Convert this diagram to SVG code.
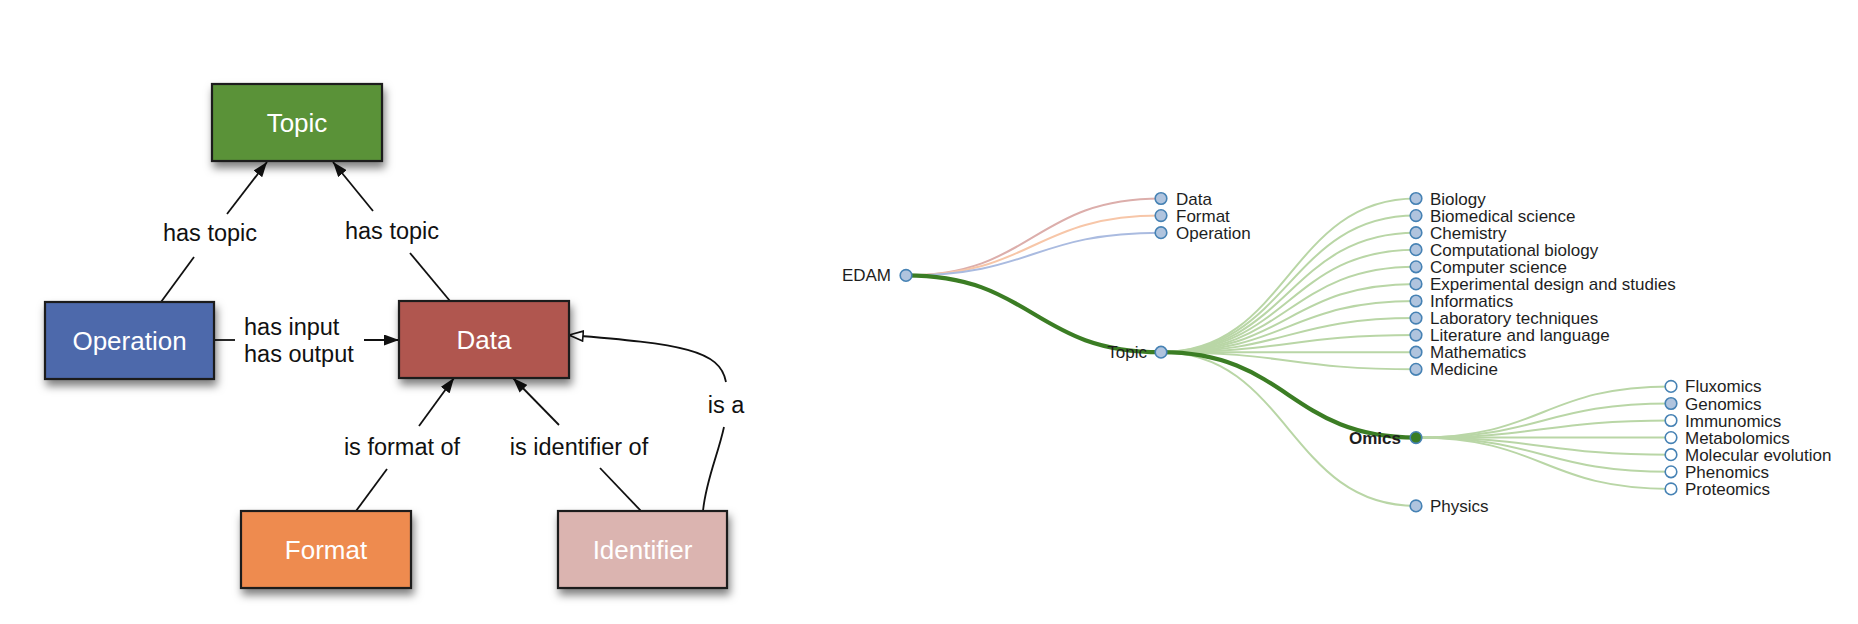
<svg xmlns="http://www.w3.org/2000/svg" width="1858" height="624" viewBox="0 0 1858 624">
<style>
.box{stroke:#1c1c1c;stroke-width:2.2;filter:url(#sh)}
.bt{font-family:"Liberation Sans",Arial,sans-serif;font-size:26px;fill:#fff;text-anchor:middle}
.lb{font-family:"Liberation Sans",Arial,sans-serif;font-size:23.5px;fill:#111;text-anchor:middle}
.e{stroke:#111;stroke-width:1.8;fill:none}
.lk{fill:none;stroke-width:2}
.g{stroke:#b9d6a6}
.thick{stroke:#3b7d24;stroke-width:4.2}
.nd{fill:#b0c4de;stroke:#4682b4;stroke-width:1.6}
.lf{fill:#fff;stroke:#4682b4;stroke-width:1.6}
.tr{font-family:"Liberation Sans",Arial,sans-serif;font-size:17px;fill:#1e1e1e}
.tl{font-family:"Liberation Sans",Arial,sans-serif;font-size:17px;fill:#1e1e1e;text-anchor:end}
</style>
<defs>
<filter id="sh" x="-20%" y="-20%" width="140%" height="160%">
<feDropShadow dx="2" dy="6" stdDeviation="4" flood-color="#000" flood-opacity="0.5"/>
</filter>
<marker id="af" viewBox="0 0 15 11" refX="15" refY="5.5" markerWidth="15" markerHeight="11" markerUnits="userSpaceOnUse" orient="auto">
<path d="M0,0 L15,5.5 L0,11 z" fill="#111"/>
</marker>
<marker id="ah" viewBox="0 0 16 12" refX="15" refY="6" markerWidth="16" markerHeight="12" markerUnits="userSpaceOnUse" orient="auto">
<path d="M1,1 L15,6 L1,11 z" fill="#fff" stroke="#111" stroke-width="1.6"/>
</marker>
</defs>
<rect width="1858" height="624" fill="#fff"/>

<g id="connectors-left">
<line class="e" x1="161" y1="302" x2="194" y2="257"/>
<line class="e" x1="227" y1="214" x2="267" y2="162" marker-end="url(#af)"/>
<line class="e" x1="450" y1="301" x2="410" y2="253"/>
<line class="e" x1="373" y1="211" x2="333" y2="162" marker-end="url(#af)"/>
<line class="e" x1="214" y1="340" x2="235" y2="340"/>
<line class="e" x1="364" y1="340" x2="399" y2="340" marker-end="url(#af)"/>
<line class="e" x1="356" y1="511" x2="387" y2="469"/>
<line class="e" x1="419" y1="426" x2="454" y2="378" marker-end="url(#af)"/>
<line class="e" x1="641" y1="511" x2="600" y2="468"/>
<line class="e" x1="559" y1="425" x2="513" y2="378" marker-end="url(#af)"/>
<path class="e" d="M703,511 C706,480 718,455 724,427"/>
<path class="e" d="M726,382 C720,350 682,344 569,335" marker-end="url(#ah)"/>
<text class="lb" x="210" y="241">has topic</text>
<text class="lb" x="392" y="239">has topic</text>
<text class="lb" x="244" y="335" style="text-anchor:start">has input</text>
<text class="lb" x="244" y="362" style="text-anchor:start">has output</text>
<text class="lb" x="402" y="455">is format of</text>
<text class="lb" x="579" y="455">is identifier of</text>
<text class="lb" x="726" y="413">is a</text>
</g>

<g id="node-topic"><rect class="box" x="212" y="84" width="170" height="77" fill="#5a9238"/><text class="bt" x="297" y="131.5">Topic</text></g>
<g id="node-operation"><rect class="box" x="45" y="302" width="169" height="77" fill="#4d69ab"/><text class="bt" x="129.5" y="349.5">Operation</text></g>
<g id="node-data"><rect class="box" x="399" y="301" width="170" height="77" fill="#b0574f"/><text class="bt" x="484" y="348.5">Data</text></g>
<g id="node-format"><rect class="box" x="241" y="511" width="170" height="77" fill="#ee8b50"/><text class="bt" x="326" y="558.5">Format</text></g>
<g id="node-identifier"><rect class="box" x="558" y="511" width="169" height="77" fill="#dbb4b0"/><text class="bt" x="642.5" y="558.5">Identifier</text></g>

<g id="connectors-tree">
<path class="lk" stroke="#dcaeab" d="M906,275.4 C1033.5,275.4 1033.5,198.5 1161,198.5"/>
<path class="lk" stroke="#f7c6a8" d="M906,275.4 C1033.5,275.4 1033.5,215.6 1161,215.6"/>
<path class="lk" stroke="#aabbe0" d="M906,275.4 C1033.5,275.4 1033.5,232.7 1161,232.7"/>
<g class="lk g">
<path d="M1161,352.2 C1288.5,352.2 1288.5,198.5 1416,198.5"/>
<path d="M1161,352.2 C1288.5,352.2 1288.5,215.6 1416,215.6"/>
<path d="M1161,352.2 C1288.5,352.2 1288.5,232.7 1416,232.7"/>
<path d="M1161,352.2 C1288.5,352.2 1288.5,249.7 1416,249.7"/>
<path d="M1161,352.2 C1288.5,352.2 1288.5,266.8 1416,266.8"/>
<path d="M1161,352.2 C1288.5,352.2 1288.5,283.9 1416,283.9"/>
<path d="M1161,352.2 C1288.5,352.2 1288.5,301.0 1416,301.0"/>
<path d="M1161,352.2 C1288.5,352.2 1288.5,318.1 1416,318.1"/>
<path d="M1161,352.2 C1288.5,352.2 1288.5,335.1 1416,335.1"/>
<path d="M1161,352.2 C1288.5,352.2 1288.5,352.2 1416,352.2"/>
<path d="M1161,352.2 C1288.5,352.2 1288.5,369.3 1416,369.3"/>
<path d="M1161,352.2 C1288.5,352.2 1288.5,505.9 1416,505.9"/>
<path d="M1416,437.6 C1543.5,437.6 1543.5,386.4 1671,386.4"/>
<path d="M1416,437.6 C1543.5,437.6 1543.5,403.5 1671,403.5"/>
<path d="M1416,437.6 C1543.5,437.6 1543.5,420.5 1671,420.5"/>
<path d="M1416,437.6 C1543.5,437.6 1543.5,437.6 1671,437.6"/>
<path d="M1416,437.6 C1543.5,437.6 1543.5,454.7 1671,454.7"/>
<path d="M1416,437.6 C1543.5,437.6 1543.5,471.8 1671,471.8"/>
<path d="M1416,437.6 C1543.5,437.6 1543.5,488.9 1671,488.9"/>
</g>
<path class="lk thick" d="M906,275.4 C1033.5,275.4 1033.5,352.2 1161,352.2"/>
<path class="lk thick" d="M1161,352.2 C1288.5,352.2 1288.5,437.6 1416,437.6"/>
</g>

<g id="t-edam"><circle class="nd" cx="906" cy="275.4" r="5.8"/><text class="tl" x="891" y="281.4">EDAM</text></g>
<g id="t-data"><circle class="nd" cx="1161" cy="198.5" r="5.8"/><text class="tr" x="1176" y="204.5">Data</text></g>
<g id="t-format"><circle class="nd" cx="1161" cy="215.6" r="5.8"/><text class="tr" x="1176" y="221.6">Format</text></g>
<g id="t-operation"><circle class="nd" cx="1161" cy="232.7" r="5.8"/><text class="tr" x="1176" y="238.7">Operation</text></g>
<g id="t-topic"><circle class="nd" cx="1161" cy="352.2" r="5.8"/><text class="tl" x="1147" y="358.2">Topic</text></g>
<g id="t-biology"><circle class="nd" cx="1416" cy="198.5" r="5.8"/><text class="tr" x="1430" y="204.5">Biology</text></g>
<g id="t-biomedical"><circle class="nd" cx="1416" cy="215.6" r="5.8"/><text class="tr" x="1430" y="221.6">Biomedical science</text></g>
<g id="t-chemistry"><circle class="nd" cx="1416" cy="232.7" r="5.8"/><text class="tr" x="1430" y="238.7">Chemistry</text></g>
<g id="t-compbio"><circle class="nd" cx="1416" cy="249.7" r="5.8"/><text class="tr" x="1430" y="255.7">Computational biology</text></g>
<g id="t-compsci"><circle class="nd" cx="1416" cy="266.8" r="5.8"/><text class="tr" x="1430" y="272.8">Computer science</text></g>
<g id="t-expdesign"><circle class="nd" cx="1416" cy="283.9" r="5.8"/><text class="tr" x="1430" y="289.9">Experimental design and studies</text></g>
<g id="t-informatics"><circle class="nd" cx="1416" cy="301.0" r="5.8"/><text class="tr" x="1430" y="307">Informatics</text></g>
<g id="t-labtech"><circle class="nd" cx="1416" cy="318.1" r="5.8"/><text class="tr" x="1430" y="324.1">Laboratory techniques</text></g>
<g id="t-literature"><circle class="nd" cx="1416" cy="335.1" r="5.8"/><text class="tr" x="1430" y="341.1">Literature and language</text></g>
<g id="t-mathematics"><circle class="nd" cx="1416" cy="352.2" r="5.8"/><text class="tr" x="1430" y="358.2">Mathematics</text></g>
<g id="t-medicine"><circle class="nd" cx="1416" cy="369.3" r="5.8"/><text class="tr" x="1430" y="375.3">Medicine</text></g>
<g id="t-omics"><circle cx="1416" cy="437.6" r="5.8" fill="#3b7d24" stroke="#4682b4" stroke-width="1.6"/><text class="tl" x="1401" y="443.6" font-weight="bold">Omics</text></g>
<g id="t-physics"><circle class="nd" cx="1416" cy="505.9" r="5.8"/><text class="tr" x="1430" y="511.9">Physics</text></g>
<g id="t-fluxomics"><circle class="lf" cx="1671" cy="386.4" r="5.8"/><text class="tr" x="1685" y="392.4">Fluxomics</text></g>
<g id="t-genomics"><circle class="nd" cx="1671" cy="403.5" r="5.8"/><text class="tr" x="1685" y="409.5">Genomics</text></g>
<g id="t-immunomics"><circle class="lf" cx="1671" cy="420.5" r="5.8"/><text class="tr" x="1685" y="426.5">Immunomics</text></g>
<g id="t-metabolomics"><circle class="lf" cx="1671" cy="437.6" r="5.8"/><text class="tr" x="1685" y="443.6">Metabolomics</text></g>
<g id="t-molevol"><circle class="lf" cx="1671" cy="454.7" r="5.8"/><text class="tr" x="1685" y="460.7">Molecular evolution</text></g>
<g id="t-phenomics"><circle class="lf" cx="1671" cy="471.8" r="5.8"/><text class="tr" x="1685" y="477.8">Phenomics</text></g>
<g id="t-proteomics"><circle class="lf" cx="1671" cy="488.9" r="5.8"/><text class="tr" x="1685" y="494.9">Proteomics</text></g>
</svg>
